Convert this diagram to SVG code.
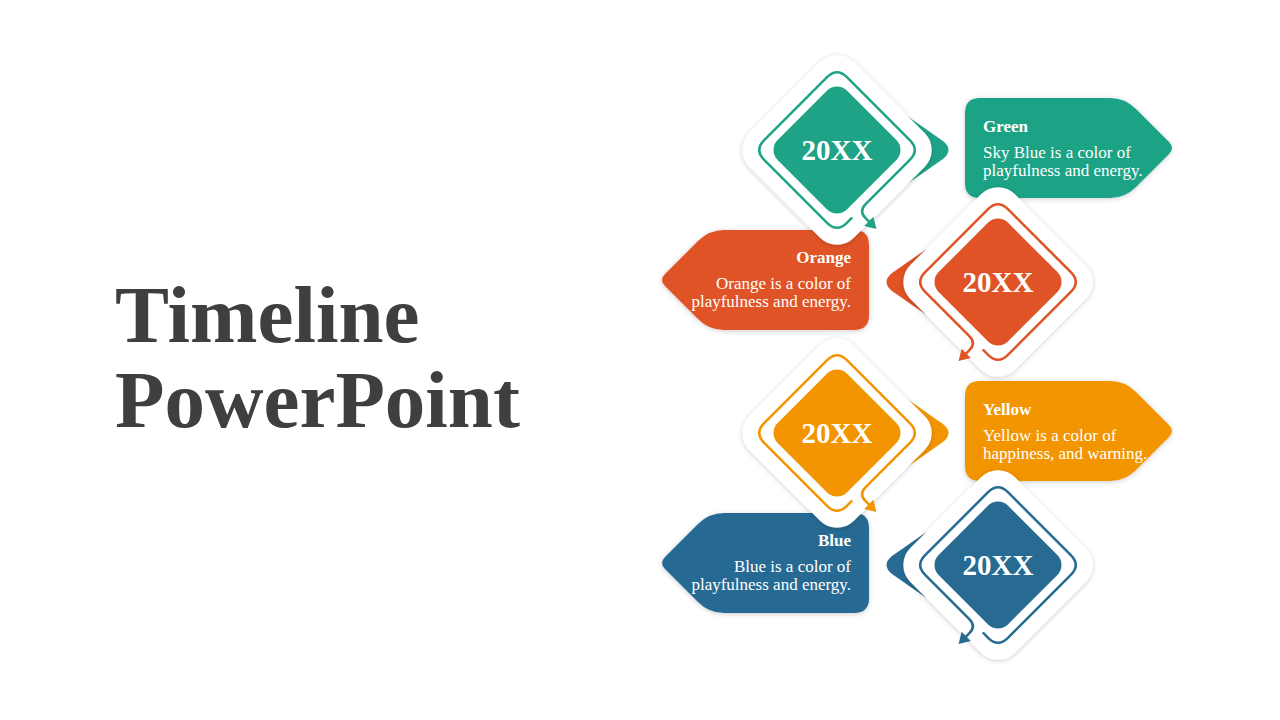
<svg xmlns="http://www.w3.org/2000/svg" width="1280" height="720" viewBox="0 0 1280 720">
<defs>
<style>
.title{font-family:"Liberation Serif",serif;font-weight:bold;font-size:81px;fill:#3F3F3F}
.year{font-family:"Liberation Serif",serif;font-weight:bold;font-size:29px;fill:#fff;text-anchor:middle}
.ttl{font-family:"Liberation Serif",serif;font-weight:bold;font-size:17px;fill:#fff}
.body{font-family:"Liberation Serif",serif;font-size:17px;fill:#fff}
.end{text-anchor:end}
.white{fill:#fff}
.ring{fill:none;stroke-width:2.5;stroke-linecap:round;stroke-linejoin:round}
.g{fill:#1FA386}.o{fill:#E05327}.y{fill:#F39500}.b{fill:#276B93}
.sg{stroke:#1FA386}.so{stroke:#E05327}.sy{stroke:#F39500}.sb{stroke:#276B93}
</style>
<filter id="sh" x="-20%" y="-20%" width="140%" height="140%">
<feDropShadow dx="0" dy="1" stdDeviation="2.5" flood-color="#000" flood-opacity="0.2"/>
</filter>
<rect id="outer" x="-74" y="-74" width="148" height="148" rx="24" transform="rotate(45)"/>
<rect id="inner" x="-49" y="-49" width="98" height="98" rx="14" transform="rotate(45)"/>
<path id="tail" d="M30 -62 L106 -9 Q117 0 106 9 L30 62 Z"/>
<marker id="mg" viewBox="0 0 10 12" refX="1" refY="6" markerWidth="12" markerHeight="13" markerUnits="userSpaceOnUse" orient="auto"><path d="M0,0 L10,6 L0,12 Z" fill="#1FA386"/></marker>
<marker id="mo" viewBox="0 0 10 12" refX="1" refY="6" markerWidth="12" markerHeight="13" markerUnits="userSpaceOnUse" orient="auto"><path d="M0,0 L10,6 L0,12 Z" fill="#E05327"/></marker>
<marker id="my" viewBox="0 0 10 12" refX="1" refY="6" markerWidth="12" markerHeight="13" markerUnits="userSpaceOnUse" orient="auto"><path d="M0,0 L10,6 L0,12 Z" fill="#F39500"/></marker>
<marker id="mb" viewBox="0 0 10 12" refX="1" refY="6" markerWidth="12" markerHeight="13" markerUnits="userSpaceOnUse" orient="auto"><path d="M0,0 L10,6 L0,12 Z" fill="#276B93"/></marker>
</defs>
<rect width="1280" height="720" fill="#fff"/>

<g id="title">
<text class="title" x="115" y="342">Timeline</text>
<text class="title" x="115" y="427">PowerPoint</text>
</g>

<g id="card-green">
<path class="g" filter="url(#sh)" d="M980,98 L1110,98 Q1125,98 1136,109 L1169,142 Q1175,148 1169,154 L1136,187 Q1125,198 1110,198 L980,198 Q965,198 965,183 L965,113 Q965,98 980,98 Z"/>
<text class="ttl" x="983" y="132">Green</text>
<text class="body" x="983" y="158">Sky Blue is a color of</text>
<text class="body" x="983" y="176">playfulness and energy.</text>
</g>
<g id="card-orange">
<path class="o" filter="url(#sh)" d="M854,230 L724,230 Q709,230 698,241 L665,274 Q659,280 665,286 L698,319 Q709,330 724,330 L854,330 Q869,330 869,315 L869,245 Q869,230 854,230 Z"/>
<text class="ttl end" x="851" y="263">Orange</text>
<text class="body end" x="851" y="289">Orange is a color of</text>
<text class="body end" x="851" y="307">playfulness and energy.</text>
</g>
<g id="card-yellow">
<path class="y" filter="url(#sh)" d="M980,381 L1110,381 Q1125,381 1136,392 L1169,425 Q1175,431 1169,437 L1136,470 Q1125,481 1110,481 L980,481 Q965,481 965,466 L965,396 Q965,381 980,381 Z"/>
<text class="ttl" x="983" y="415">Yellow</text>
<text class="body" x="983" y="441">Yellow is a color of</text>
<text class="body" x="983" y="459">happiness, and warning.</text>
</g>
<g id="card-blue">
<path class="b" filter="url(#sh)" d="M854,513 L724,513 Q709,513 698,524 L665,557 Q659,563 665,569 L698,602 Q709,613 724,613 L854,613 Q869,613 869,598 L869,528 Q869,513 854,513 Z"/>
<text class="ttl end" x="851" y="546">Blue</text>
<text class="body end" x="851" y="572">Blue is a color of</text>
<text class="body end" x="851" y="590">playfulness and energy.</text>
</g>

<g id="node-green" transform="translate(837,150)">
<use href="#tail" class="g"/>
<use href="#outer" class="white" filter="url(#sh)"/>
<use href="#inner" class="g"/>
<text class="year" x="0" y="10">20XX</text>
</g>
<g id="node-orange" transform="translate(998,282)">
<use href="#tail" class="o" transform="scale(-1,1)"/>
<use href="#outer" class="white" filter="url(#sh)"/>
<use href="#inner" class="o"/>
<text class="year" x="0" y="10">20XX</text>
</g>
<g id="node-yellow" transform="translate(837,433)">
<use href="#tail" class="y"/>
<use href="#outer" class="white" filter="url(#sh)"/>
<use href="#inner" class="y"/>
<text class="year" x="0" y="10">20XX</text>
</g>
<g id="node-blue" transform="translate(998,565)">
<use href="#tail" class="b" transform="scale(-1,1)"/>
<use href="#outer" class="white" filter="url(#sh)"/>
<use href="#inner" class="b"/>
<text class="year" x="0" y="10">20XX</text>
</g>

<g id="connectors">
<path class="ring sg" marker-end="url(#mg)" transform="translate(837,150) rotate(45)" d="M58.5 38 L58.5 44.5 Q58.5 58.5 44.5 58.5 L-44.5 58.5 Q-58.5 58.5 -58.5 44.5 L-58.5 -44.5 Q-58.5 -58.5 -44.5 -58.5 L44.5 -58.5 Q58.5 -58.5 58.5 -44.5 L58.5 18 Q58.5 28 68.5 28 L74 28"/>
<path class="ring so" marker-end="url(#mo)" transform="translate(998,282) scale(-1,1) rotate(45)" d="M58.5 38 L58.5 44.5 Q58.5 58.5 44.5 58.5 L-44.5 58.5 Q-58.5 58.5 -58.5 44.5 L-58.5 -44.5 Q-58.5 -58.5 -44.5 -58.5 L44.5 -58.5 Q58.5 -58.5 58.5 -44.5 L58.5 18 Q58.5 28 68.5 28 L74 28"/>
<path class="ring sy" marker-end="url(#my)" transform="translate(837,433) rotate(45)" d="M58.5 38 L58.5 44.5 Q58.5 58.5 44.5 58.5 L-44.5 58.5 Q-58.5 58.5 -58.5 44.5 L-58.5 -44.5 Q-58.5 -58.5 -44.5 -58.5 L44.5 -58.5 Q58.5 -58.5 58.5 -44.5 L58.5 18 Q58.5 28 68.5 28 L74 28"/>
<path class="ring sb" marker-end="url(#mb)" transform="translate(998,565) scale(-1,1) rotate(45)" d="M58.5 38 L58.5 44.5 Q58.5 58.5 44.5 58.5 L-44.5 58.5 Q-58.5 58.5 -58.5 44.5 L-58.5 -44.5 Q-58.5 -58.5 -44.5 -58.5 L44.5 -58.5 Q58.5 -58.5 58.5 -44.5 L58.5 18 Q58.5 28 68.5 28 L74 28"/>
</g>
</svg>
